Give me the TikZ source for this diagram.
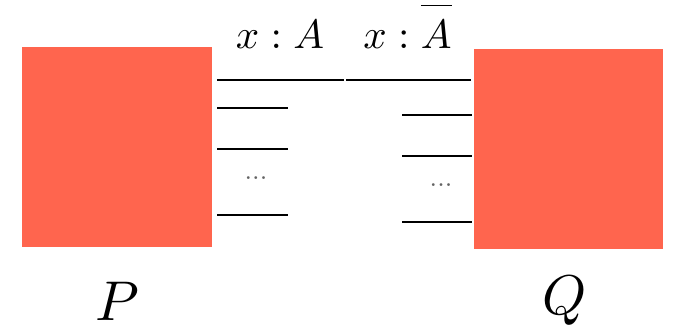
\documentclass[tikz,border=0pt]{standalone}
\definecolor{boxred}{RGB}{255,101,78}
\definecolor{dotgray}{RGB}{100,100,100}
\tikzset{
  redbox/.style={fill=boxred, draw=none, inner sep=0pt, anchor=north west},
  wire/.style={line width=2pt, black},
  toplbl/.style={anchor=base, inner sep=0pt, scale=4.1},
  biglbl/.style={anchor=base, inner sep=0pt, scale=5.6},
  dotlbl/.style={anchor=base, inner sep=0pt, scale=2.7, text=dotgray}
}
\begin{document}
\begin{tikzpicture}[x=1pt,y=-1pt]
\useasboundingbox (0,0) rectangle (675,330);
% boxes
\node[redbox, minimum width=190pt, minimum height=200pt] (P) at (22,47) {};
\node[redbox, minimum width=189pt, minimum height=200pt] (Q) at (474,49) {};
% top wires
\coordinate (t1a) at (217,80); \coordinate (t1b) at (344,80);
\coordinate (t2a) at (346,80); \coordinate (t2b) at (471,80);
\draw[wire] (t1a) -- (t1b);
\draw[wire] (t2a) -- (t2b);
% left short wires
\coordinate (l1a) at (217,107.5); \coordinate (l1b) at (288,107.5);
\coordinate (l2a) at (217,148.5); \coordinate (l2b) at (288,148.5);
\coordinate (l3a) at (217,215); \coordinate (l3b) at (288,215);
\draw[wire] (l1a) -- (l1b);
\draw[wire] (l2a) -- (l2b);
\draw[wire] (l3a) -- (l3b);
% right short wires
\coordinate (r1a) at (402,114.5); \coordinate (r1b) at (472,114.5);
\coordinate (r2a) at (402,155.5); \coordinate (r2b) at (472,155.5);
\coordinate (r3a) at (402,222); \coordinate (r3b) at (472,222);
\draw[wire] (r1a) -- (r1b);
\draw[wire] (r2a) -- (r2b);
\draw[wire] (r3a) -- (r3b);
% dots
\node[dotlbl] (ld) at (256,179) {...};
\node[dotlbl] (rd) at (441,186) {...};
% labels
\node[toplbl] (la) at (280,48) {$x : A$};
\node[toplbl] (lb) at (407.5,48) {$x : \overline{\rule{0pt}{0.9em}A}$};
\node[biglbl] (lp) at (117,320) {$P$};
\node[biglbl] (lq) at (565,314) {$Q$};
\end{tikzpicture}
\end{document}
